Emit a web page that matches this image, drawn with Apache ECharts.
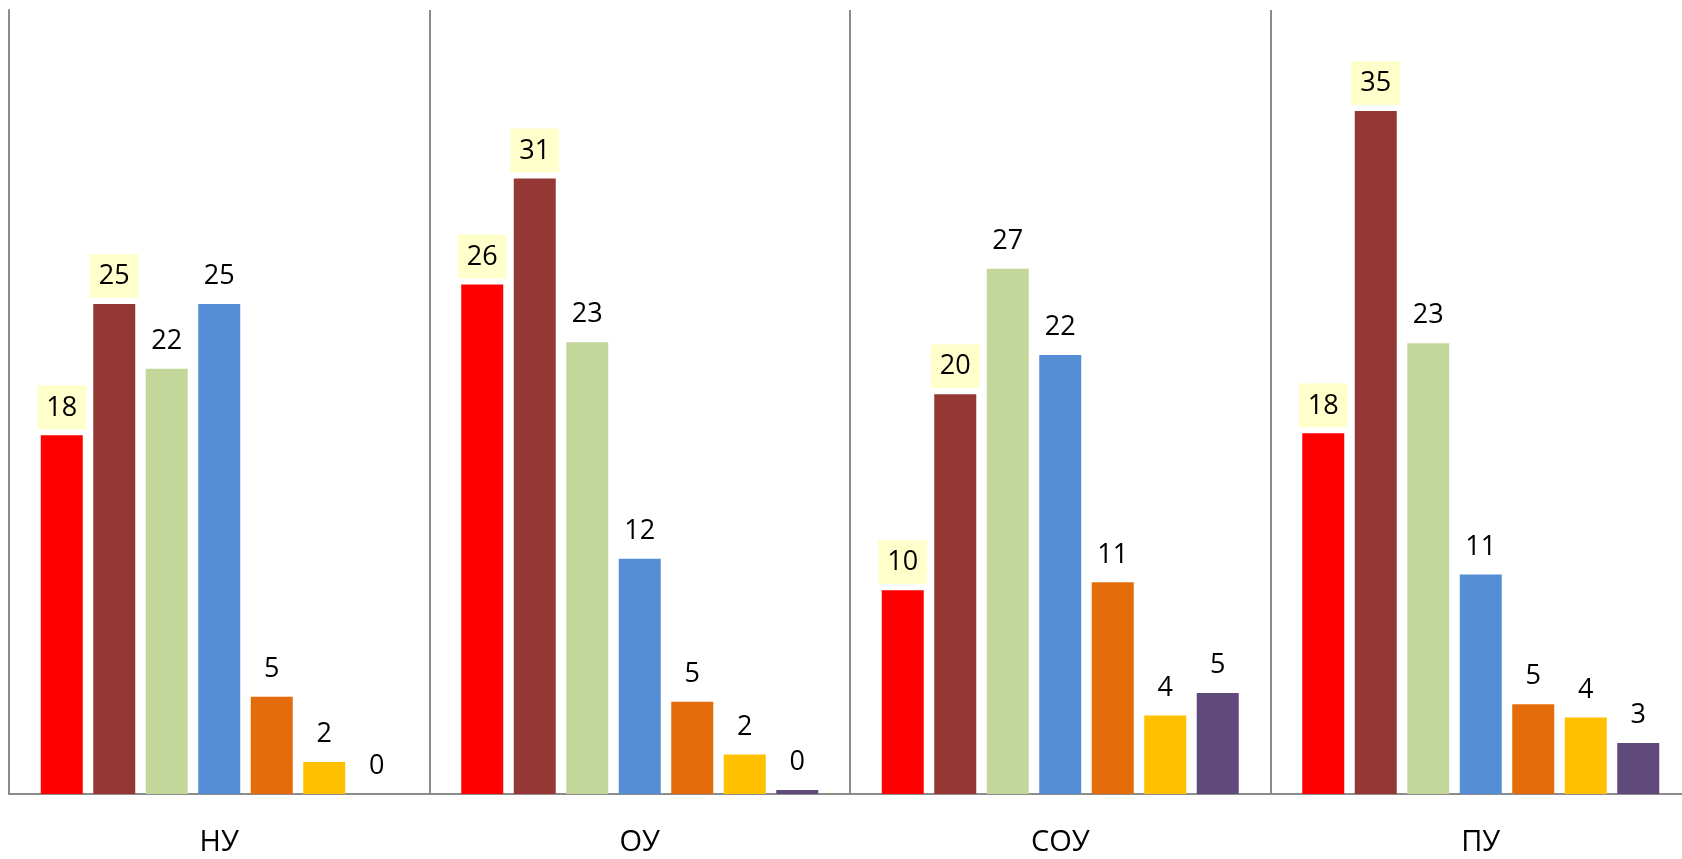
<!DOCTYPE html>
<html>
<head>
<meta charset="utf-8">
<script src="https://cdn.jsdelivr.net/npm/echarts@6/dist/echarts.min.js"></script>
<style>html,body{margin:0;padding:0;background:#fff}#c{width:1682px;height:859px}</style>
</head>
<body>
<div id="c"></div>
<script>
const categories = ['НУ', 'ОУ', 'СОУ', 'ПУ'];
const s1 = [18.3, 26.0, 10.4, 18.4];
const s2 = [25.0, 31.4, 20.4, 34.85];
const s3 = [21.7, 23.05, 26.8, 23.0];
const s4 = [25.0, 12.0, 22.4, 11.2];
const s5 = [4.96, 4.71, 10.8, 4.58];
const s6 = [1.63, 2.02, 4.0, 3.9];
const s7 = [0, 0.2, 5.15, 2.6];
const seriesData = [s1, s2, s3, s4, s5, s6, s7];
const colors = ['#FF0000', '#953735', '#C4D79B', '#558ED5', '#E46C0A', '#FFC000', '#604A7B'];
const labelBg = ['#FFFFCC', '#FFFFCC', null, null, null, null, null];

const chart = echarts.init(document.getElementById('c'));
chart.setOption({
  animation: false,
  grid: { left: 9, width: 1682, top: 10, bottom: 65, containLabel: false, outerBoundsMode: 'none' },
  xAxis: {
    type: 'category',
    data: categories,
    axisLine: { show: true, lineStyle: { color: '#8c8c8c', width: 2 } },
    axisTick: { show: false },
    axisLabel: { fontFamily: 'Open Sans', fontSize: 29, color: '#000', margin: 34 },
    splitLine: { show: true, interval: 0, lineStyle: { color: '#8c8c8c', width: 2 } }
  },
  yAxis: {
    type: 'value', min: 0, max: 40,
    axisLine: { show: true, lineStyle: { color: '#8c8c8c', width: 2 } },
    axisTick: { show: false },
    axisLabel: { show: false },
    splitLine: { show: false }
  },
  series: seriesData.map((d, i) => ({
    type: 'bar',
    data: d,
    barWidth: 42,
    barGap: '25%',
    itemStyle: { color: colors[i] },
    label: {
      show: true,
      position: 'top',
      distance: 6,
      formatter: p => Math.round(p.value),
      fontFamily: 'Open Sans',
      fontSize: 27,
      color: '#000',
      padding: [9, 9, 8, 9],
      backgroundColor: labelBg[i] || 'transparent'
    }
  }))
});
</script>
</body>
</html>
